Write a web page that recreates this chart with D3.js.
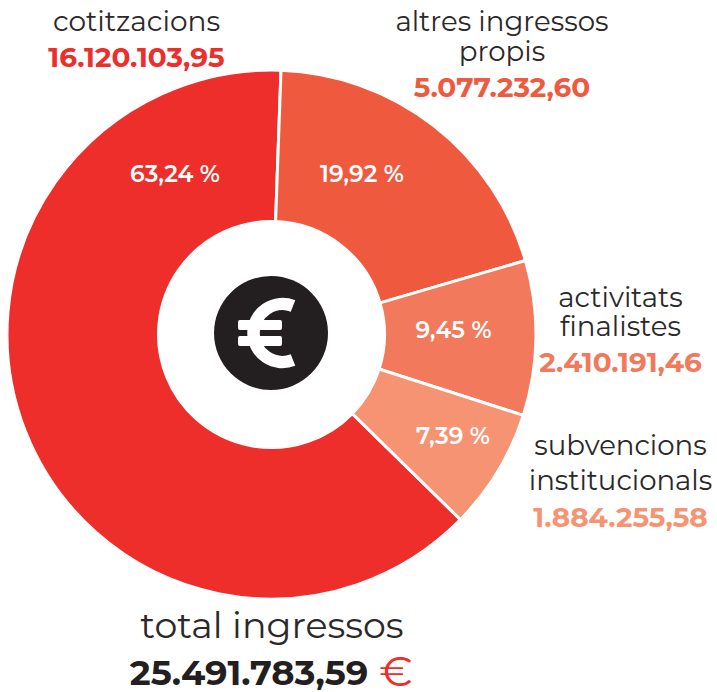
<!DOCTYPE html>
<html><head><meta charset="utf-8">
<script src="https://cdn.jsdelivr.net/npm/d3@7"></script>
<style>html,body{margin:0;padding:0;background:#fff}svg{display:block}text{font-family:Montserrat,Inter,"Open Sans",sans-serif}</style>
</head><body><svg id="c" width="717" height="692"></svg>
<script>
const categories=[["cotitzacions"],["altres ingressos","propis"],["activitats","finalistes"],["subvencions","institucionals"]];
const amounts=[16120103.95,5077232.60,2410191.46,1884255.58];
const amountLabels=["16.120.103,95","5.077.232,60","2.410.191,46","1.884.255,58"];
const percentLabels=["63,24 %","19,92 %","9,45 %","7,39 %"];
const colors=["#ed2e2a","#ef5a3f","#f2795b","#f59373"];
const totalTitle="total ingressos";
const totalLabel="25.491.783,59";
const svg=d3.select("#c");
const cx=271.5,cy=334.5,R=264.5,r=113;
const g=svg.append("g").attr("transform",`translate(${cx},${cy})`);
const endRot=0.036;
const startA=endRot-(amounts[0]/d3.sum(amounts))*2*Math.PI;
const pie=d3.pie().sort(null).startAngle(startA).endAngle(startA+2*Math.PI);
const arcs=pie(amounts);
const arc=d3.arc().innerRadius(r).outerRadius(R);
g.selectAll("path").data(arcs).join("path").attr("d",arc).attr("fill",(d,i)=>colors[i]).attr("stroke","#fff").attr("stroke-width",3);
const pctPos=[[175,174],[362,174],[453.5,330],[453,436]];
svg.selectAll(".p").data(percentLabels).join("text").attr("x",(d,i)=>pctPos[i][0]).attr("y",(d,i)=>pctPos[i][1]+8).attr("text-anchor","middle").attr("fill","#fff").attr("font-size",23.4).attr("font-weight",600).text(d=>d);
// euro icon in the centre
svg.append("circle").attr("cx",271).attr("cy",333).attr("r",57).attr("fill","#231f20");
const p=d3.path();
p.arc(282.5,333,29,-1.2,1.2,true);
svg.append("path").attr("d",p.toString()).attr("fill","none").attr("stroke","#fff").attr("stroke-width",12.5);
[320,336].forEach(y=>svg.append("rect").attr("x",238).attr("width",44).attr("y",y).attr("height",10).attr("rx",2).attr("fill","#fff"));
const labelPos=[{x:136.5,ys:[31],vy:67},{x:502,ys:[31,61],vy:97},{x:620.5,ys:[307,336],vy:372},{x:620.5,ys:[455,490],vy:527}];
categories.forEach((c,i)=>{
 c.forEach((t,j)=>svg.append("text").attr("x",labelPos[i].x).attr("y",labelPos[i].ys[j]).attr("text-anchor","middle").attr("fill","#2b2829").attr("font-size",i==0?28:27.6).text(t));
 svg.append("text").attr("x",labelPos[i].x).attr("y",labelPos[i].vy).attr("text-anchor","middle").attr("fill",colors[i]).attr("font-size",27.9).attr("font-weight",700).text(amountLabels[i]);
});
svg.append("text").attr("x",272).attr("y",638).attr("text-anchor","middle").attr("fill","#2b2829").attr("font-size",36.4).text(totalTitle);
svg.append("text").attr("x",249).attr("y",685).attr("text-anchor","middle").attr("fill","#231f20").attr("font-size",35.3).attr("font-weight",700).text(totalLabel);
svg.append("text").attr("x",396).attr("y",686).attr("text-anchor","middle").attr("fill","#ed2e2a").attr("font-size",42).text("€");
</script></body></html>
